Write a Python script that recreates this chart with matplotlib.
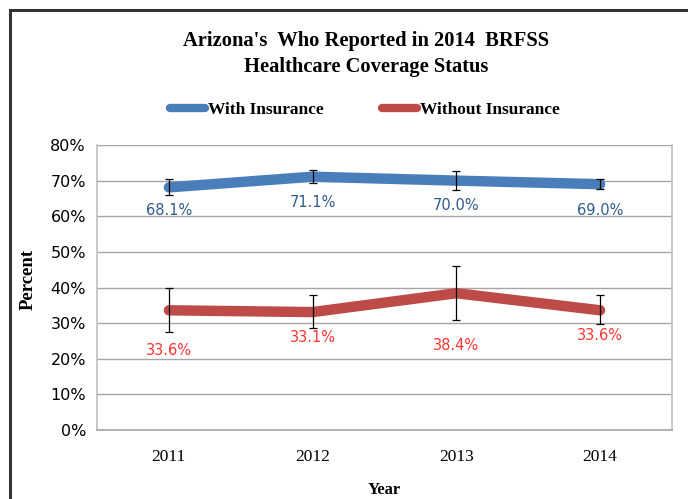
import matplotlib
matplotlib.use("Agg")
import matplotlib.pyplot as plt
from matplotlib.lines import Line2D
from matplotlib.patches import Rectangle
import numpy as np

# ── Data ─────────────────────────────────────────────────────────────────────
years = ["2011", "2012", "2013", "2014"]
with_ins = [68.1, 71.1, 70.0, 69.0]
with_lo = [66.0, 69.4, 67.4, 67.6]
with_hi = [70.4, 72.9, 72.7, 70.4]
without_ins = [33.6, 33.1, 38.4, 33.6]
without_lo = [27.5, 28.7, 30.9, 29.8]
without_hi = [40.0, 37.8, 46.1, 37.8]

# label offsets below the point (pixels), layout only
with_off = [23, 26, 25, 26]
without_off = [40, 25, 52, 25]

BLUE = "#4A7EBB"
RED = "#BE4B48"
BLUE_TXT = "#2F5B8E"
RED_TXT = "#FF3333"
GRID = "#A6A6A6"
SERIF = "Liberation Serif"

fig = plt.figure(figsize=(6.88, 4.99), dpi=100)
fig.patch.set_facecolor("white")

# outer frame (runs off the right / bottom edge like the original)
fig.patches.append(Rectangle((10 / 688, -0.05), 1.2, 1 - 10 / 499 + 0.05,
                             transform=fig.transFigure, fill=False,
                             edgecolor="#333333", linewidth=2.2))

ax = fig.add_axes([97 / 688, 1 - 430 / 499, 575 / 688, 285 / 499])
x = np.arange(len(years))


def draw(vals, lo, hi, color, tcolor, offs):
    vals = np.array(vals)
    yerr = [vals - np.array(lo), np.array(hi) - vals]
    ax.plot(x, vals, color=color, linewidth=7.5, solid_capstyle="round",
            solid_joinstyle="round", zorder=3)
    ax.errorbar(x, vals, yerr=yerr, fmt="none", ecolor="black",
                elinewidth=0.9, capsize=3.2, capthick=0.9, zorder=4)
    for xi, v, o in zip(x, vals, offs):
        ax.annotate(f"{v:.1f}%", (xi, v), xytext=(0, -o * 0.72),
                    textcoords="offset points", ha="center", va="center",
                    fontsize=10.5, color=tcolor, family="DejaVu Sans", zorder=5)


draw(with_ins, with_lo, with_hi, BLUE, BLUE_TXT, with_off)
draw(without_ins, without_lo, without_hi, RED, RED_TXT, without_off)

ax.set_xlim(-0.5, 3.5)
ax.set_ylim(0, 80)
ax.set_yticks(np.arange(0, 81, 10))
ax.set_yticklabels([f"{v}%" for v in range(0, 81, 10)], fontsize=11.5,
                   family="DejaVu Sans")
ax.set_xticks(x)
ax.set_xticklabels(years, fontsize=12.5, family=SERIF)
ax.tick_params(length=0, pad=8)
ax.tick_params(axis="x", pad=14)
ax.grid(axis="y", color=GRID, linewidth=1.0)
ax.set_axisbelow(True)
for s in ["left", "right", "bottom"]:
    ax.spines[s].set_color("#BFBFBF")
    ax.spines[s].set_linewidth(1.2)
ax.spines["bottom"].set_color(GRID)
ax.spines["top"].set_visible(False)

ax.set_xlabel("Year", fontsize=12, family=SERIF, fontweight="bold", labelpad=12)
ax.set_ylabel("Percent", fontsize=13.5, family=SERIF, fontweight="bold")
ax.yaxis.set_label_coords(-60 / 575, 0.53)

fig.text(0.532, 1 - 54 / 499,
         "Arizona's  Who Reported in 2014  BRFSS\nHealthcare Coverage Status",
         ha="center", va="center", fontsize=14.8, family=SERIF,
         fontweight="bold", linespacing=1.35)

handles = [Line2D([], [], color=BLUE, linewidth=6, solid_capstyle="round"),
           Line2D([], [], color=RED, linewidth=6, solid_capstyle="round")]
fig.legend(handles, ["With Insurance", "Without Insurance"],
           loc="center", bbox_to_anchor=(365 / 688, 1 - 110 / 499), ncol=2,
           frameon=False, prop={"family": SERIF, "size": 12.5, "weight": "bold"},
           handlelength=2.0, handletextpad=0.15, columnspacing=3.4)

fig.savefig("out.png", dpi=100, facecolor="white")
